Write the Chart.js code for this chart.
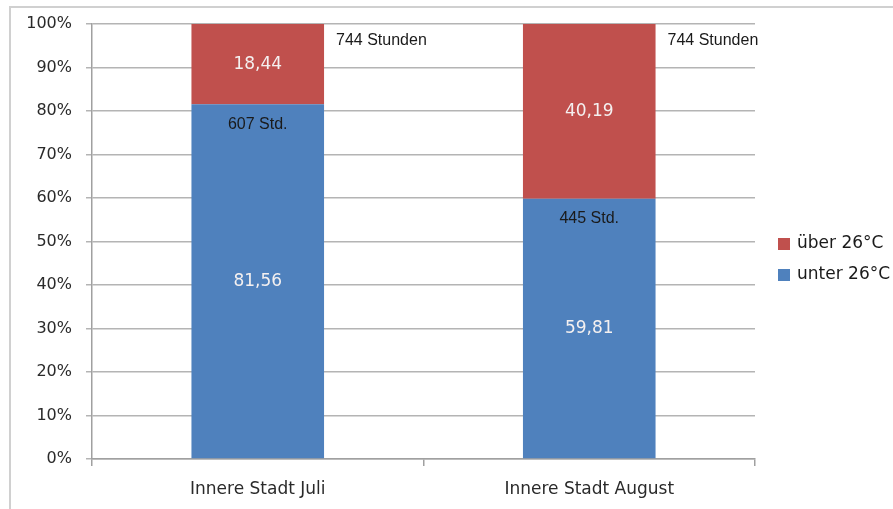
<!DOCTYPE html>
<html>
<head>
<meta charset="utf-8">
<script src="https://cdn.jsdelivr.net/npm/chart.js@4"></script>
<style>
  html, body { margin: 0; padding: 0; background: #fff; }
  #wrap { position: relative; width: 893px; height: 509px; }
</style>
</head>
<body>
<div id="wrap"><canvas id="chart" width="893" height="509"></canvas></div>
<script>
// Anteil der Stunden über/unter 26°C (Prozent)
const categories = ['Innere Stadt Juli', 'Innere Stadt August'];
const unter26 = [81.56, 59.81];
const ueber26 = [18.44, 40.19];
const stundenUnter = [607, 445];
const stundenGesamt = [744, 744];
const yTicks = [0, 10, 20, 30, 40, 50, 60, 70, 80, 90, 100];

const blue = '#4f81bd';
const red = '#c0504d';

// frame, hour annotations and the legend
const extras = {
    id: 'extras',
    beforeDraw(chart) {
        const c = chart.ctx;
        c.save();
        c.strokeStyle = '#d0d0d0';
        c.lineWidth = 2;
        c.beginPath();
        c.moveTo(10, 509);
        c.lineTo(10, 7);
        c.lineTo(893, 7);
        c.stroke();
        c.restore();
    },
    afterDatasetsDraw(chart) {
        const c = chart.ctx;
        const y = chart.scales.y;
        const area = chart.chartArea;
        const blueBars = chart.getDatasetMeta(0).data;
        c.save();
        c.fillStyle = '#1a1a1a';
        c.textBaseline = 'middle';
        blueBars.forEach((bar, i) => {
            c.font = '16px "Liberation Sans"';
            c.textAlign = 'center';
            c.fillText(stundenUnter[i] + ' Std.', bar.x, y.getPixelForValue(unter26[i]) + 20);
            c.textAlign = 'left';
            c.fillText(stundenGesamt[i] + ' Stunden', bar.x + bar.width / 2 + 12, y.getPixelForValue(100) + 17);
        });

        // legend, top item is the upper stack segment
        const items = [chart.data.datasets[1], chart.data.datasets[0]];
        const mid = (area.top + area.bottom) / 2 + 18;
        c.font = '17px "DejaVu Sans"';
        c.textAlign = 'left';
        items.forEach((ds, i) => {
            const ly = mid - 15.5 + i * 31;
            c.fillStyle = ds.backgroundColor;
            c.fillRect(area.right + 23, ly - 6, 12, 12);
            c.fillStyle = '#1a1a1a';
            c.fillText(ds.label, area.right + 42, ly);
        });
        c.restore();
    }
};

// percentage value inside each segment
const segmentLabels = {
    id: 'segmentLabels',
    afterDatasetsDraw(chart) {
        const c = chart.ctx;
        c.save();
        c.fillStyle = '#f4f0f0';
        c.font = '17px "DejaVu Sans"';
        c.textAlign = 'center';
        c.textBaseline = 'middle';
        chart.data.datasets.forEach((ds, di) => {
            chart.getDatasetMeta(di).data.forEach((bar, i) => {
                const mid = (bar.y + bar.base) / 2;
                c.fillText(ds.data[i].toFixed(2).replace('.', ','), bar.x, mid);
            });
        });
        c.restore();
    }
};

new Chart(document.getElementById('chart'), {
    type: 'bar',
    data: {
        labels: categories,
        datasets: [
            { label: 'unter 26°C', data: unter26, backgroundColor: blue, categoryPercentage: 1, barPercentage: 0.4 },
            { label: 'über 26°C', data: ueber26, backgroundColor: red, categoryPercentage: 1, barPercentage: 0.4 }
        ]
    },
    options: {
        responsive: false,
        animation: false,
        layout: { padding: { left: 10, right: 138, top: 24, bottom: 0 } },
        plugins: { legend: { display: false }, tooltip: { enabled: false } },
        scales: {
            x: {
                stacked: true,
                afterFit(scale) { scale.height = 50; },
                grid: { drawOnChartArea: false, color: '#a0a0a0', lineWidth: 1.5, tickLength: 7 },
                border: { color: '#a0a0a0', width: 1.5 },
                ticks: { color: '#2a2a2a', font: { family: 'DejaVu Sans', size: 17 }, padding: 13 }
            },
            y: {
                stacked: true,
                min: 0,
                max: 100,
                afterFit(scale) { scale.width = 82; },
                afterBuildTicks(scale) { scale.ticks = yTicks.map(v => ({ value: v })); },
                grid: { color: '#b4b4b4', lineWidth: 1.5, tickLength: 6 },
                border: { color: '#a0a0a0', width: 1.5 },
                ticks: { color: '#2a2a2a', font: { family: 'DejaVu Sans', size: 16 }, padding: 14, callback: v => v + '%' }
            }
        }
    },
    plugins: [extras, segmentLabels]
});
</script>
</body>
</html>
